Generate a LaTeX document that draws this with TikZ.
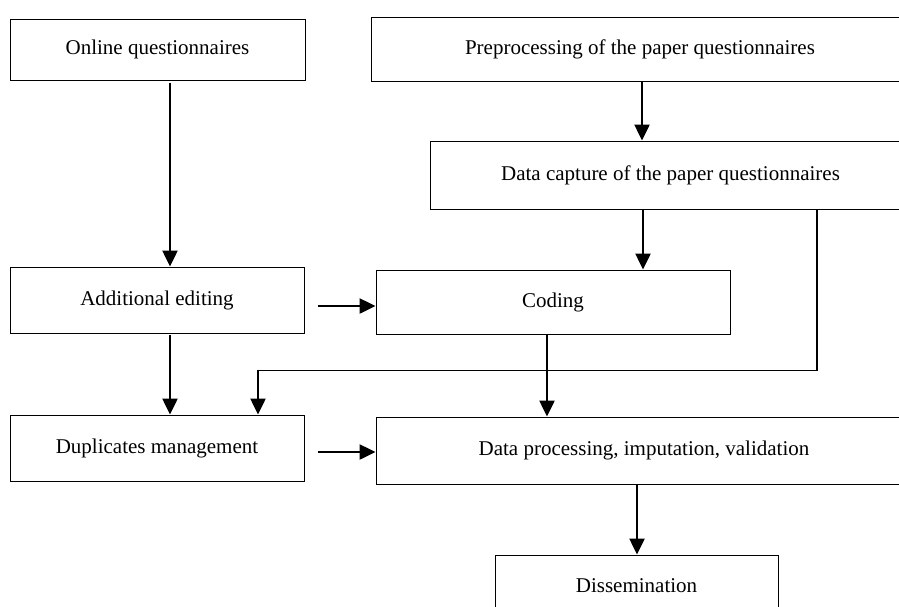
\documentclass[tikz,border=0pt]{standalone}
\usepackage{fontspec}
\setmainfont{Liberation Serif}
\usepackage{tikz}
\usetikzlibrary{arrows.meta,positioning}

\begin{document}
\begin{tikzpicture}[x=1pt,y=-1pt,
  box/.style={draw,line width=1pt,minimum height=64pt,inner sep=0pt,font=\fontsize{21}{25}\selectfont},
  flow/.style={line width=2.5pt,-{Triangle[length=16pt,width=15pt]}}]
  \useasboundingbox (0,0) rectangle (899,606);
  \clip (0,0) rectangle (899,606);
  \node[box,minimum width=295pt,minimum height=61pt] (onl) at (157.5,49.5) {Online questionnaires};
  \node[box,minimum width=538pt] (pre) at (640,49) {Preprocessing of the paper questionnaires};
  \node[box,minimum width=481pt,minimum height=68pt] (cap) at (670.5,175) {Data capture of the paper questionnaires};
  \node[box,minimum width=294pt,minimum height=66pt] (add) at (157,300) {Additional editing};
  \node[box,minimum width=354pt] (cod) at (553,302) {Coding};
  \node[box,minimum width=294pt,minimum height=66pt] (dup) at (157,448) {Duplicates management};
  \node[box,minimum width=536pt,minimum height=67pt] (dpr) at (644,450.5) {Data processing, imputation, validation};
  \node[box,minimum width=283pt,minimum height=62pt] (dis) at (636.5,586) {Dissemination};

  \draw[flow] ([xshift=12.5pt,yshift=-2pt]onl.south) -- ([xshift=13pt]add.north);
  \draw[flow] ([xshift=2pt]pre.south) -- ([xshift=2pt]pre.south |- cap.north);
  \draw[flow] ([xshift=90pt]cod.north |- cap.south) -- ([xshift=90pt]cod.north);
  \draw[flow] ([xshift=13pt,yshift=-6pt]add.east) -- ([yshift=-6pt]add.east -| cod.west);
  \draw[flow] ([xshift=13pt,yshift=-1pt]add.south) -- ([xshift=13pt]dup.north);
  % paper questionnaires also go to duplicates
  \draw[line width=1.3pt] ([xshift=146.5pt]cap.south) |- ([xshift=101pt,yshift=44pt]dup.north);
  \draw[flow] ([xshift=101pt,yshift=45pt]dup.north) -- ([xshift=101pt]dup.north);
  \draw[flow] ([xshift=-6pt]cod.south) -- ([xshift=-6pt]cod.south |- dpr.north);
  \draw[flow] ([xshift=13pt,yshift=-4pt]dup.east) -- ([yshift=-4pt]dup.east -| dpr.west);
  \draw[flow] ([xshift=-7pt]dpr.south) -- ([xshift=-7pt]dpr.south |- dis.north);
\end{tikzpicture}
\end{document}
